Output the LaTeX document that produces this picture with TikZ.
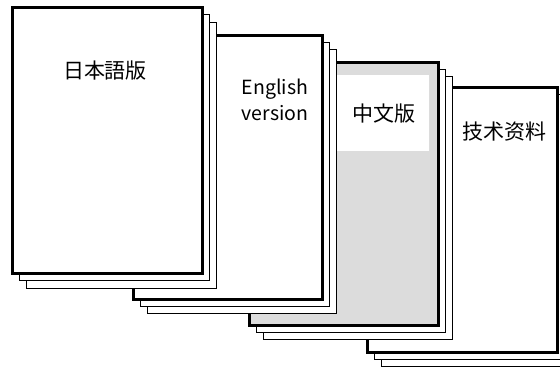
\documentclass[tikz,border=0pt]{standalone}
\usepackage{fontspec}
\setmainfont{Noto Sans CJK JP}
\newfontfamily\latinfont{Noto Sans CJK JP}
\definecolor{pagegray}{HTML}{DCDCDC}
\begin{document}
\begin{tikzpicture}[x=1pt,y=-1pt,
  pagebase/.style={rectangle, draw=black, fill=white, inner sep=0pt, anchor=north west},
  backpage/.style={pagebase, line width=1.3pt},
  frontpage/.style={pagebase, line width=2.5pt},
  cjklabel/.style={font=\fontsize{21}{24}\selectfont, inner sep=0pt},
  enlabel/.style={font=\fontsize{19.5}{26}\selectfont, align=center, inner sep=0pt}]
\useasboundingbox (0,0) rectangle (560,367);
\fill[white] (0,0) rectangle (560,367);
\clip (0,0) rectangle (560,367);
% stack 4
\node[backpage, minimum width=190pt, minimum height=265pt] (s4b2) at (381,101) {};
\node[backpage, minimum width=190pt, minimum height=265pt] (s4b1) at (373.5,93.5) {};
\node[frontpage, minimum width=190pt, minimum height=265pt] (s4f) at (366,86) {};
\node[cjklabel] (t4) at (504,132) {技术资料};
% stack 3
\node[backpage, minimum width=189pt, minimum height=263pt] (s3b2) at (263,76) {};
\node[backpage, minimum width=189pt, minimum height=263pt] (s3b1) at (255.5,68.5) {};
\node[frontpage, fill=pagegray, minimum width=189pt, minimum height=263pt] (s3f) at (248,61) {};
\node[rectangle, fill=white, inner sep=0pt, minimum width=92pt, minimum height=76pt, anchor=north west] (s3w) at (337,75) {};
\node[cjklabel] (t3) at (384,114) {中文版};
% stack 2
\node[backpage, minimum width=189pt, minimum height=264pt] (s2b2) at (147,49) {};
\node[backpage, minimum width=189pt, minimum height=264pt] (s2b1) at (139.5,41.5) {};
\node[frontpage, minimum width=189pt, minimum height=264pt] (s2f) at (132,34) {};
\node[enlabel] (t2) at (275,100) {\latinfont English\\\latinfont version};
% stack 1
\node[backpage, minimum width=190pt, minimum height=266pt] (s1b2) at (26,21.5) {};
\node[backpage, minimum width=190pt, minimum height=266pt] (s1b1) at (18.5,14) {};
\node[frontpage, minimum width=190pt, minimum height=266pt] (s1f) at (11,6) {};
\node[cjklabel] (t1) at (105,71) {日本語版};
\end{tikzpicture}
\end{document}
